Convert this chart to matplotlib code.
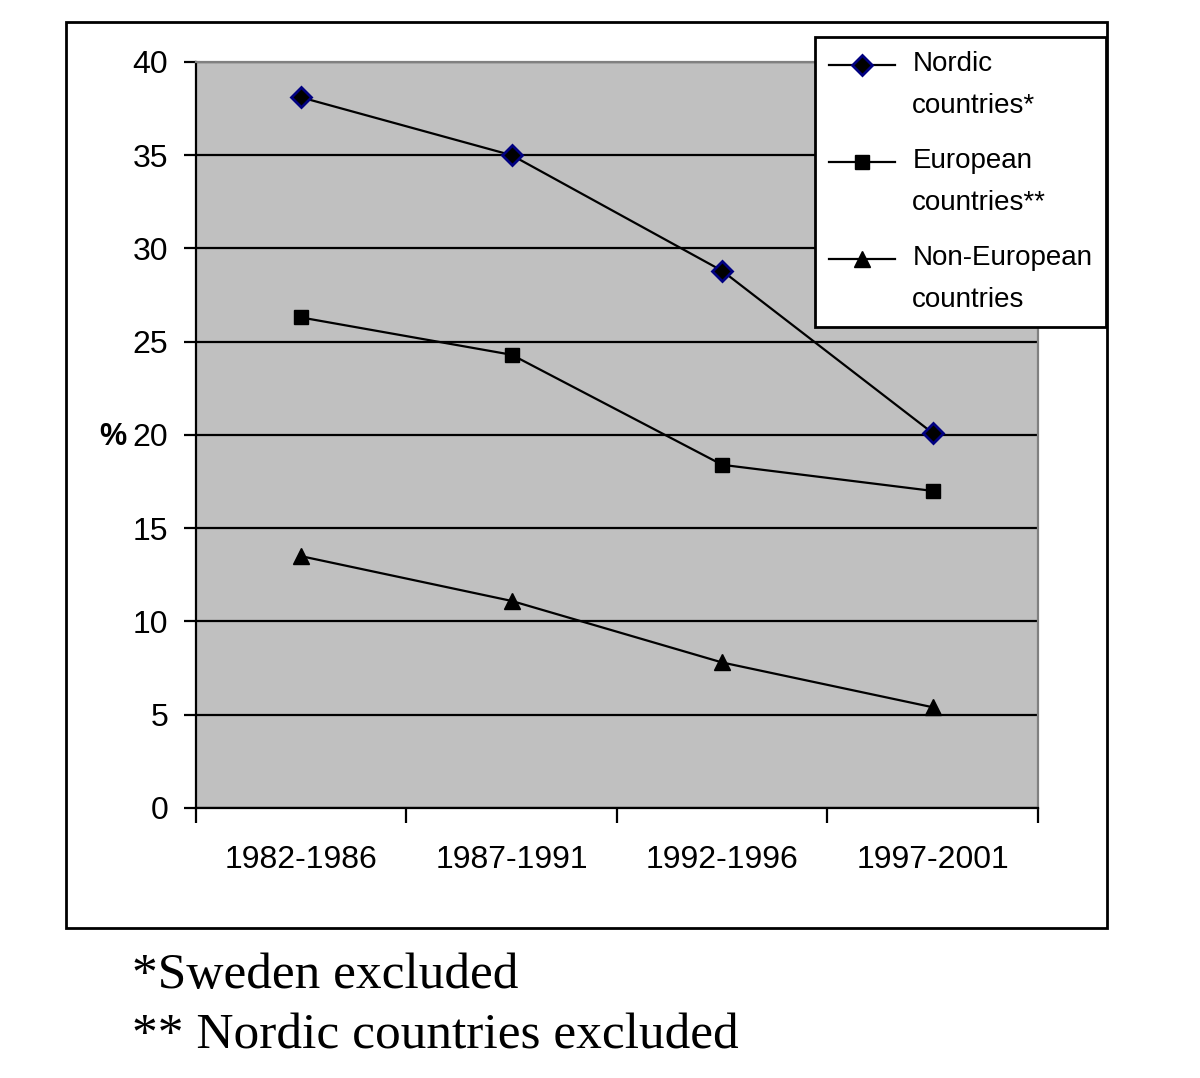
import matplotlib
matplotlib.use('Agg')
import matplotlib.pyplot as plt
from matplotlib.patches import Rectangle
from matplotlib.legend_handler import HandlerLine2D
import numpy as np

# --- data ---
periods = ['1982-1986', '1987-1991', '1992-1996', '1997-2001']
nordic = [38.1, 35.0, 28.8, 20.1]
european = [26.3, 24.3, 18.4, 17.0]
non_european = [13.5, 11.1, 7.8, 5.4]

plt.rcParams['font.family'] = ['Liberation Sans', 'DejaVu Sans']


# legend handle sits on the first text line, not in the middle of the two
class TopLineHandler(HandlerLine2D):
    def create_artists(self, legend, orig_handle, xdescent, ydescent, width, height, fontsize, trans):
        arts = super().create_artists(legend, orig_handle, xdescent, ydescent, width, height, fontsize, trans)
        for a in arts:
            a.set_ydata(np.asarray(a.get_ydata()) + 14.5)
        return arts


fig = plt.figure(figsize=(12, 10.78), dpi=100)
# outer chart frame
fig.patches.append(Rectangle((0.055, 0.139), 0.8675, 0.8406, transform=fig.transFigure,
                             fill=False, edgecolor='black', linewidth=2))

ax = fig.add_axes([0.1633, 0.2505, 0.7017, 0.692])
ax.set_facecolor('#C0C0C0')

x = np.arange(len(periods)) + 0.5
ax.plot(x, nordic, color='black', lw=1.6, marker='D', markersize=10,
        markerfacecolor='black', markeredgecolor='#000080', markeredgewidth=2,
        label='Nordic\ncountries*', zorder=3)
ax.plot(x, european, color='black', lw=1.6, marker='s', markersize=10,
        markerfacecolor='black', markeredgecolor='black', label='European\ncountries**', zorder=3)
ax.plot(x, non_european, color='black', lw=1.6, marker='^', markersize=12,
        markerfacecolor='black', markeredgecolor='black', label='Non-European\ncountries', zorder=3)

ax.set_xlim(0, len(periods))
ax.set_ylim(0, 40)
ax.set_yticks(range(0, 41, 5))
ax.yaxis.grid(True, color='black', lw=1.6)
ax.set_axisbelow(True)

ax.set_xticks(x)
ax.set_xticklabels(periods)
ax.set_xticks(np.arange(len(periods) + 1), minor=True)
ax.tick_params(axis='x', which='major', length=0, labelsize=23, pad=27)
ax.tick_params(axis='x', which='minor', length=11, width=1.6, direction='out')
ax.tick_params(axis='y', length=9, width=1.6, direction='out', labelsize=23, pad=11)

for side in ['left', 'bottom']:
    ax.spines[side].set_color('black')
    ax.spines[side].set_linewidth(1.6)
for side in ['top', 'right']:
    ax.spines[side].set_color('#808080')
    ax.spines[side].set_linewidth(1.6)

fig.text(0.105, 0.595, '%', fontsize=22, fontweight='bold', ha='right', va='center')

leg = ax.legend(loc='upper left', bbox_to_anchor=(0.679, 0.9657), bbox_transform=fig.transFigure,
                fontsize=20, frameon=True, fancybox=False, framealpha=1, edgecolor='black',
                handlelength=2.4, labelspacing=1.05, borderpad=0.5, handletextpad=0.61,
                borderaxespad=0, handler_map={matplotlib.lines.Line2D: TopLineHandler()})
leg.get_frame().set_linewidth(2)
for t in leg.get_texts():
    t.set_linespacing(1.8)

serif = ['Liberation Serif', 'DejaVu Serif']
fig.text(0.11, 0.0945, '*Sweden excluded', family=serif, fontsize=37, va='center')
fig.text(0.11, 0.0385, '** Nordic countries excluded', family=serif, fontsize=37, va='center')

fig.savefig('out.png', dpi=100)
